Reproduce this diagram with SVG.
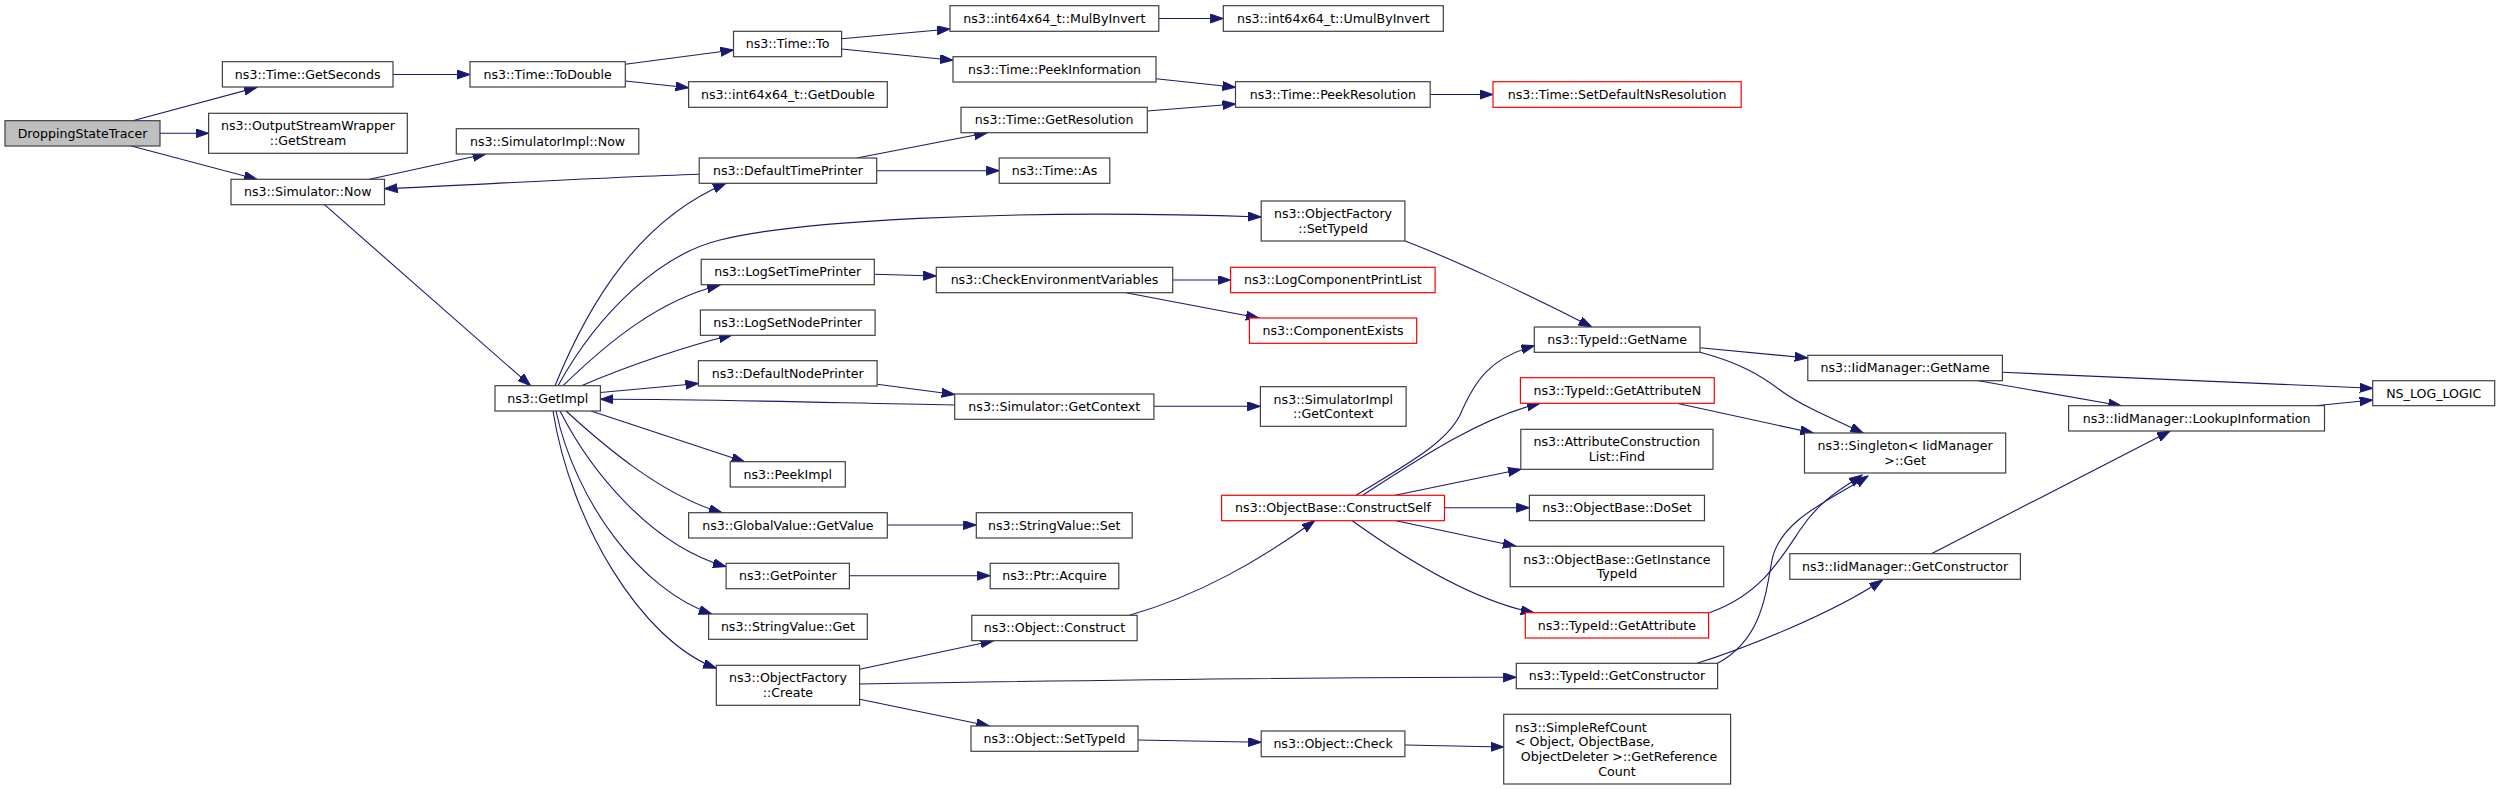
<svg xmlns="http://www.w3.org/2000/svg" width="2501" height="789" viewBox="0 0 2501 789">
<style>
rect{fill:#ffffff;stroke:#404040;stroke-width:1.2}
rect.root{fill:#bfbfbf}
rect.red{stroke:#ff0000}
text{font-family:"DejaVu Sans","Liberation Sans",sans-serif;font-size:12.6px;text-anchor:middle;fill:#000000}
text.l{text-anchor:start}
.e path{fill:none;stroke:#191970;stroke-width:1.1;marker-end:url(#a)}
</style>
<defs>
<marker id="a" markerUnits="userSpaceOnUse" markerWidth="14" markerHeight="10" refX="13" refY="4.5" orient="auto">
<path d="M0,0 L13,4.5 L0,9 z" fill="#191970" stroke="#191970" stroke-width="1"/>
</marker>
</defs>
<rect x="0" y="0" width="2501" height="789" style="fill:#ffffff;stroke:none"/>
<g class="e" id="connectors">
<path d="M132.7,120.7 L257,87.3"/>
<path d="M160,133.3 L208.6,133.3"/>
<path d="M131.4,146 L257,179.3"/>
<path d="M393,74.5 L470,74.5"/>
<path d="M625.3,64.3 L733.5,50"/>
<path d="M625.3,81 L688.6,87.7"/>
<path d="M841.6,38.7 L950,29"/>
<path d="M841.6,49 L953,60.3"/>
<path d="M1158.8,18.5 L1223.3,18.5"/>
<path d="M1156,78.7 L1235.5,87.3"/>
<path d="M1147.3,111 L1235.5,104"/>
<path d="M1430.2,94.5 L1493,94.5"/>
<path d="M369.4,179.3 L485.7,154"/>
<path d="M699.2,174.3 C 600,177.5 480,184.5 384.5,188.7"/>
<path d="M324.5,204.7 L530.6,385.7"/>
<path d="M555,385.7 C 590,300 640,220 726,183.3"/>
<path d="M558,385.7 C 600,310 662,254 720,240 C 790,222 1000,208 1261,217"/>
<path d="M563,385.7 C 610,340 660,300 720,285"/>
<path d="M581.6,385.7 C 630,365 690,345 732,335"/>
<path d="M600.4,392.5 L698.4,383.5"/>
<path d="M591,411 L744.5,461.7"/>
<path d="M566,411 C 600,442 660,495 722,512.7"/>
<path d="M560,411 C 590,470 650,545 726,566.7"/>
<path d="M556,411 C 575,500 640,590 711.8,614"/>
<path d="M553,411 C 570,520 640,640 716.3,668.3"/>
<path d="M856.7,158 L987.3,132.7"/>
<path d="M876.7,170.7 L999.2,170.7"/>
<path d="M874.3,274.3 L936.3,276"/>
<path d="M1172.7,280 L1230.6,280"/>
<path d="M1126,292.7 L1259,318"/>
<path d="M1404.9,241 C 1450,258 1530,295 1591.8,327"/>
<path d="M877.1,384.3 L954.7,394.5"/>
<path d="M954.7,405 C 800,402 700,399 600.4,399.3"/>
<path d="M1153.9,406.3 L1260.4,406.3"/>
<path d="M887.3,525 L976.3,525"/>
<path d="M849.4,575.7 L990.2,575.7"/>
<path d="M859.6,669.3 L993.5,640.7"/>
<path d="M859.6,684 C 1100,680 1300,677 1516.3,677.3"/>
<path d="M859.6,699.3 L989.4,726"/>
<path d="M1138,740 L1261.2,742.3"/>
<path d="M1404.9,745 L1503.7,747"/>
<path d="M1129.4,615.3 C 1200,595 1260,560 1314.7,520.7"/>
<path d="M1356,495.3 C 1400,468 1445,445 1460,415 C 1475,380 1490,358 1534.3,345.7"/>
<path d="M1362.7,495.3 C 1420,458 1480,418 1540,403.3"/>
<path d="M1395,495.3 L1521,469.3"/>
<path d="M1444.5,507.7 L1529.4,507.7"/>
<path d="M1396,520.7 L1516,546.3"/>
<path d="M1352.2,520.7 C 1400,555 1470,600 1533.9,612.7"/>
<path d="M1700,347.7 L1807.8,358"/>
<path d="M1700,352.3 C 1740,363 1760,375 1780,390 C 1800,405 1835,420 1863.3,433"/>
<path d="M1676.7,403.3 L1813.3,433"/>
<path d="M1709.4,612.7 C 1760,595 1780,560 1800,530 C 1820,500 1840,490 1862,475"/>
<path d="M1717.6,663.3 C 1760,640 1765,600 1772,560 C 1780,520 1830,500 1868,476"/>
<path d="M1697,663.3 C 1740,650 1830,615 1882.4,580"/>
<path d="M2002.4,372.3 L2372.7,388.3"/>
<path d="M1978.4,380.7 L2121.2,405.7"/>
<path d="M2315,405.7 L2372.7,400"/>
<path d="M1931.4,553.7 L2170.2,431"/>
</g>
<g id="n1"><rect class="root" x="5" y="120.7" width="155" height="25.3"/><text x="82.5" y="137.75">DroppingStateTracer</text></g>
<g id="n2"><rect x="222.4" y="61.7" width="170.6" height="25.3"/><text x="307.7" y="78.75">ns3::Time::GetSeconds</text></g>
<g id="n3"><rect x="208.6" y="113.3" width="198.7" height="40"/><text x="307.95" y="130.35">ns3::OutputStreamWrapper</text><text x="307.95" y="145.05">::GetStream</text></g>
<g id="n4"><rect x="231" y="179.3" width="153.5" height="25.4"/><text x="307.75" y="196.4">ns3::Simulator::Now</text></g>
<g id="n5"><rect x="470" y="61.7" width="155.3" height="25.3"/><text x="547.65" y="78.75">ns3::Time::ToDouble</text></g>
<g id="n6"><rect x="456.3" y="128.7" width="182.5" height="25.3"/><text x="547.55" y="145.75">ns3::SimulatorImpl::Now</text></g>
<g id="n7"><rect x="495" y="385.7" width="105.4" height="25.3"/><text x="547.7" y="402.75">ns3::GetImpl</text></g>
<g id="n8"><rect x="733.5" y="31.3" width="108.1" height="25.4"/><text x="787.55" y="48.4">ns3::Time::To</text></g>
<g id="n9"><rect x="950" y="5.7" width="208.8" height="25.6"/><text x="1054.4" y="22.9">ns3::int64x64_t::MulByInvert</text></g>
<g id="n10"><rect x="953" y="56.7" width="203" height="25.3"/><text x="1054.5" y="73.75">ns3::Time::PeekInformation</text></g>
<g id="n11"><rect x="688.6" y="81.7" width="198.7" height="25.6"/><text x="787.95" y="98.9">ns3::int64x64_t::GetDouble</text></g>
<g id="n12"><rect x="961" y="107.3" width="186.3" height="25.4"/><text x="1054.15" y="124.4">ns3::Time::GetResolution</text></g>
<g id="n13"><rect x="699.2" y="158" width="177.5" height="25.3"/><text x="787.95" y="175.05">ns3::DefaultTimePrinter</text></g>
<g id="n14"><rect x="999.2" y="158" width="110.6" height="25.3"/><text x="1054.5" y="175.05">ns3::Time::As</text></g>
<g id="n15"><rect x="701.2" y="259.3" width="173.1" height="25.4"/><text x="787.75" y="276.4">ns3::LogSetTimePrinter</text></g>
<g id="n16"><rect x="936.3" y="267.3" width="236.4" height="25.4"/><text x="1054.5" y="284.4">ns3::CheckEnvironmentVariables</text></g>
<g id="n17"><rect x="700.4" y="310" width="174.7" height="25.3"/><text x="787.75" y="327.05">ns3::LogSetNodePrinter</text></g>
<g id="n18"><rect x="698.4" y="360.7" width="178.7" height="25.3"/><text x="787.75" y="377.75">ns3::DefaultNodePrinter</text></g>
<g id="n19"><rect x="954.7" y="394" width="199.2" height="25.3"/><text x="1054.3" y="411.05">ns3::Simulator::GetContext</text></g>
<g id="n20"><rect x="1223.3" y="5.7" width="220" height="25.6"/><text x="1333.3" y="22.9">ns3::int64x64_t::UmulByInvert</text></g>
<g id="n21"><rect x="1235.5" y="81.7" width="194.7" height="25.6"/><text x="1332.85" y="98.9">ns3::Time::PeekResolution</text></g>
<g id="n22"><rect class="red" x="1493" y="81.7" width="248.2" height="25.6"/><text x="1617.1" y="98.9">ns3::Time::SetDefaultNsResolution</text></g>
<g id="n23"><rect x="1261.2" y="201" width="143.7" height="40"/><text x="1333.05" y="218.05">ns3::ObjectFactory</text><text x="1333.05" y="232.75">::SetTypeId</text></g>
<g id="n24"><rect class="red" x="1230.6" y="267.3" width="204.5" height="25.4"/><text x="1332.85" y="284.4">ns3::LogComponentPrintList</text></g>
<g id="n25"><rect class="red" x="1249.4" y="318" width="167.3" height="25.3"/><text x="1333.05" y="335.05">ns3::ComponentExists</text></g>
<g id="n26"><rect x="1534.3" y="327" width="165.7" height="25.3"/><text x="1617.15" y="344.05">ns3::TypeId::GetName</text></g>
<g id="n27"><rect x="1807.8" y="355.3" width="194.6" height="25.4"/><text x="1905.1" y="372.4">ns3::IidManager::GetName</text></g>
<g id="n28"><rect class="red" x="1520.4" y="377.7" width="193.9" height="25.6"/><text x="1617.35" y="394.9">ns3::TypeId::GetAttributeN</text></g>
<g id="n29"><rect x="1260.4" y="386.7" width="145.7" height="39.6"/><text x="1333.25" y="403.55">ns3::SimulatorImpl</text><text x="1333.25" y="418.25">::GetContext</text></g>
<g id="n30"><rect x="2372.7" y="380.7" width="122" height="25"/><text x="2433.7" y="397.6">NS_LOG_LOGIC</text></g>
<g id="n31"><rect x="1520.8" y="429.3" width="192.2" height="40"/><text x="1616.9" y="446.35">ns3::AttributeConstruction</text><text x="1616.9" y="461.05">List::Find</text></g>
<g id="n32"><rect class="red" x="1221.6" y="495.3" width="222.9" height="25.4"/><text x="1333.05" y="512.4">ns3::ObjectBase::ConstructSelf</text></g>
<g id="n33"><rect x="1529.4" y="495.3" width="175.1" height="25.4"/><text x="1616.95" y="512.4">ns3::ObjectBase::DoSet</text></g>
<g id="n34"><rect x="1510.2" y="546.3" width="213.5" height="40.4"/><text x="1616.95" y="563.55">ns3::ObjectBase::GetInstance</text><text x="1616.95" y="578.25">TypeId</text></g>
<g id="n35"><rect class="red" x="1525.3" y="612.7" width="183.3" height="25.3"/><text x="1616.95" y="629.75">ns3::TypeId::GetAttribute</text></g>
<g id="n36"><rect x="1516.3" y="663.3" width="201.3" height="25.4"/><text x="1616.95" y="680.4">ns3::TypeId::GetConstructor</text></g>
<g id="n37"><rect x="1503.7" y="714.3" width="226.9" height="69.7"/><text class="l" x="1515" y="731.5">ns3::SimpleRefCount</text><text class="l" x="1515" y="746.2">&lt; Object, ObjectBase,</text><text x="1619" y="760.9">ObjectDeleter &gt;::GetReference</text><text x="1617" y="775.6">Count</text></g>
<g id="n38"><rect x="1261.2" y="731" width="143.7" height="25.7"/><text x="1333.05" y="748.25">ns3::Object::Check</text></g>
<g id="n39"><rect x="1804.5" y="433" width="201.2" height="40"/><text x="1905.1" y="450.05">ns3::Singleton&lt; IidManager</text><text x="1905.1" y="464.75">&gt;::Get</text></g>
<g id="n40"><rect x="1789.8" y="553.7" width="230.6" height="25.6"/><text x="1905.1" y="570.9">ns3::IidManager::GetConstructor</text></g>
<g id="n41"><rect x="2068.6" y="405.7" width="255.9" height="25.3"/><text x="2196.55" y="422.75">ns3::IidManager::LookupInformation</text></g>
<g id="n42"><rect x="730.2" y="461.7" width="115.1" height="25.3"/><text x="787.75" y="478.75">ns3::PeekImpl</text></g>
<g id="n43"><rect x="688.6" y="512.7" width="198.7" height="25.3"/><text x="787.95" y="529.75">ns3::GlobalValue::GetValue</text></g>
<g id="n44"><rect x="976.3" y="512.7" width="155.9" height="25.3"/><text x="1054.25" y="529.75">ns3::StringValue::Set</text></g>
<g id="n45"><rect x="726.1" y="563.3" width="123.3" height="25.4"/><text x="787.75" y="580.4">ns3::GetPointer</text></g>
<g id="n46"><rect x="990.2" y="563.3" width="128.6" height="25.4"/><text x="1054.5" y="580.4">ns3::Ptr::Acquire</text></g>
<g id="n47"><rect x="708.6" y="614" width="158.7" height="25.3"/><text x="787.95" y="631.05">ns3::StringValue::Get</text></g>
<g id="n48"><rect x="971.8" y="615.3" width="165.3" height="25.4"/><text x="1054.45" y="632.4">ns3::Object::Construct</text></g>
<g id="n49"><rect x="716.3" y="665.3" width="143.3" height="40"/><text x="787.95" y="682.35">ns3::ObjectFactory</text><text x="787.95" y="697.05">::Create</text></g>
<g id="n50"><rect x="971" y="726" width="167" height="25.3"/><text x="1054.5" y="743.05">ns3::Object::SetTypeId</text></g>
</svg>
